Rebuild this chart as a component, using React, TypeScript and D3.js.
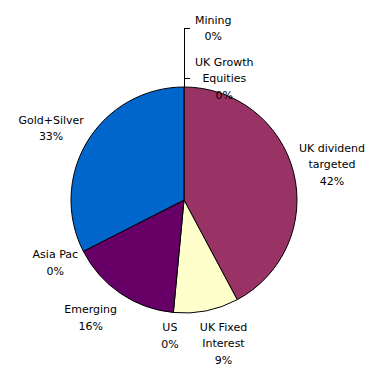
import React, { useRef, useEffect } from "react";
import * as d3 from "d3";

// slices, clockwise from 12 o'clock (Excel order)
const categories = [
  "UK Growth Equities",
  "UK dividend targeted",
  "UK Fixed Interest",
  "US",
  "Emerging",
  "Asia Pac",
  "Gold+Silver",
  "Mining",
];
const shares = [0, 42.2, 9.3, 0, 16.0, 0, 32.5, 0];
const labelLines = [
  ["UK Growth", "Equities"],
  ["UK dividend", "targeted"],
  ["UK Fixed", "Interest"],
  ["US"],
  ["Emerging"],
  ["Asia Pac"],
  ["Gold+Silver"],
  ["Mining"],
];
const colors = ["#9999FF", "#993366", "#FFFFCC", "#CCFFFF", "#660066", "#FF8080", "#0066CC", "#CCCCFF"];

// small hand tweaks so labels sit where Excel put them
const nudges: Record<string, [number, number]> = {
  "UK dividend targeted": [2.5, 0.5],
  "UK Fixed Interest": [10, -4],
  US: [0, -14],
  Emerging: [-9, -6.5],
  "Asia Pac": [5, -5.5],
  "Gold+Silver": [-5, 6.5],
};

const W = 378;
const H = 374;
const cx = 184;
const cy = 200;
const r = 113;
const labelR = 150;
const lineH = 16.5;

const App: React.FC = () => {
  const ref = useRef<SVGSVGElement | null>(null);

  useEffect(() => {
    const svg = d3.select(ref.current);
    svg.selectAll("*").remove();

    const data = categories.map((name, i) => ({
      name,
      value: shares[i],
      lines: labelLines[i],
      color: colors[i],
    }));
    const total = d3.sum(shares);

    const pie = d3
      .pie<(typeof data)[0]>()
      .sort(null)
      .value(d => d.value);
    const arcs = pie(data);
    const arc = d3.arc<d3.PieArcDatum<(typeof data)[0]>>().innerRadius(0).outerRadius(r);

    const g = svg.append("g").attr("transform", `translate(${cx},${cy})`);

    g.selectAll("path.slice")
      .data(arcs.filter(a => a.value > 0))
      .enter()
      .append("path")
      .attr("class", "slice")
      .attr("d", arc)
      .attr("fill", d => d.data.color)
      .attr("stroke", "#000")
      .attr("stroke-width", 1)
      .attr("stroke-linejoin", "round");

    const isTop = (a: d3.PieArcDatum<(typeof data)[0]>) =>
      a.value === 0 && (a.endAngle < 1e-6 || a.startAngle > 2 * Math.PI - 1e-6);

    const topOnes = [...arcs.filter(a => isTop(a) && a.endAngle < 1), ...arcs.filter(a => isTop(a) && a.endAngle > 1)];

    const labels = svg
      .append("g")
      .attr("font-family", "'DejaVu Sans', Verdana, sans-serif")
      .attr("font-size", 11)
      .attr("fill", "#000");

    const drawBlock = (lines: string[], x: number, y: number) => {
      const t = labels.append("text").attr("text-anchor", "middle");
      lines.forEach((ln, i) => {
        t.append("tspan")
          .attr("x", x)
          .attr("y", y + (i - (lines.length - 1) / 2) * lineH + 4)
          .text(ln);
      });
      return t;
    };

    arcs.forEach(a => {
      const pct = `${Math.round((a.value / total) * 100)}%`;
      const lines = [...a.data.lines, pct];
      if (isTop(a)) {
        const k = topOnes.indexOf(a);
        const yc = cy - r - 9 - k * 50;
        const t = drawBlock(lines, 0, yc);
        const bb = (t.node() as SVGTextElement).getBBox();
        const x = cx + 11 + bb.width / 2;
        t.selectAll("tspan").attr("x", x);
        labels
          .append("path")
          .attr("d", `M${cx + 6},${yc}H${cx}V${cy - r}`)
          .attr("fill", "none")
          .attr("stroke", "#000")
          .attr("stroke-width", 1)
          .attr("shape-rendering", "crispEdges");
        return;
      }
      const mid = (a.startAngle + a.endAngle) / 2;
      const [nx, ny] = nudges[a.data.name] || [0, 0];
      const x = cx + labelR * Math.sin(mid) + nx;
      const y = cy - labelR * Math.cos(mid) + ny;
      drawBlock(lines, x, y);
    });
  }, []);

  return (
    <svg
      ref={ref}
      width={W}
      height={H}
      style={{ position: "absolute", left: 0, top: 0, background: "#fff" }}
    />
  );
};

export default App;
